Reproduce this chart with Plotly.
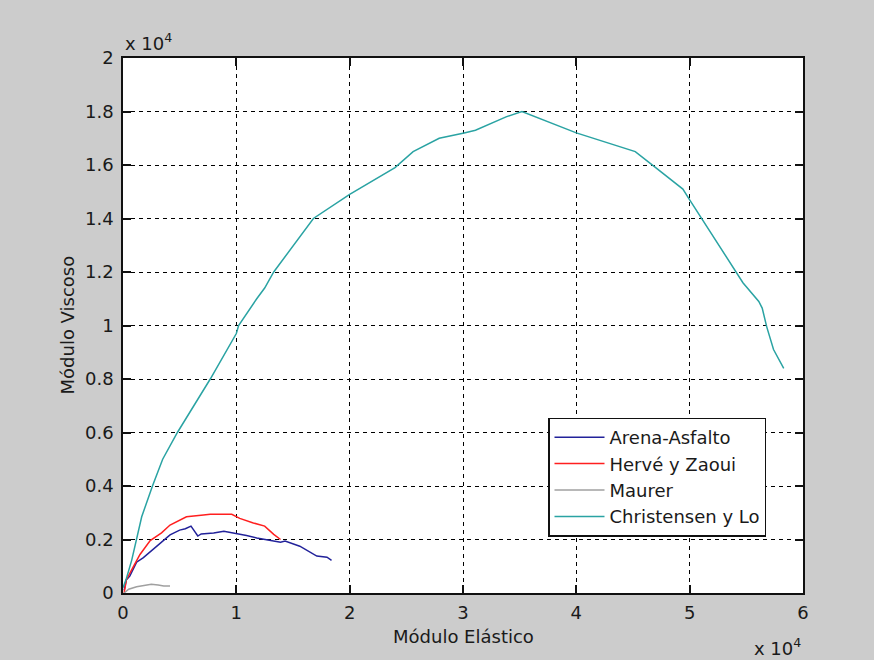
import plotly.graph_objects as go

arena_x = [100, 300, 600, 1200, 1800, 2700, 4150, 5000, 5500, 6000, 6600, 6900, 8000, 8900, 9700,
           10900, 11800, 13000, 13900, 14300, 15600, 17100, 18000, 18400]
arena_y = [100, 500, 630, 1150, 1320, 1650, 2170, 2350, 2400, 2500, 2130, 2210, 2240, 2310, 2250,
           2150, 2060, 1970, 1900, 1940, 1750, 1380, 1340, 1220]

herve_x = [100, 300, 1000, 1500, 2400, 3400, 4150, 5600, 7100, 7700, 9600, 10300, 11500, 12500, 13300, 13900]
herve_y = [0, 500, 1050, 1440, 1960, 2250, 2540, 2850, 2920, 2940, 2940, 2790, 2620, 2500, 2190, 2000]

maurer_x = [100, 500, 1200, 2500, 3100, 3600, 4150]
maurer_y = [0, 140, 230, 330, 300, 260, 260]

chris_x = [0, 260, 770, 1650, 2600, 3500, 4800, 6550, 7700, 10000, 10200, 11800, 12500, 13300, 16800,
           20000, 24000, 25600, 27900, 30100, 31100, 33800, 35200, 40000, 45200, 47000, 49400,
           50000, 53900, 54700, 56100, 56400, 56800, 57400, 58300]
chris_y = [200, 490, 1230, 2850, 4000, 5000, 6000, 7200, 8000, 9700, 10000, 11000, 11400, 12000, 14000,
           14900, 15900, 16500, 17000, 17200, 17300, 17800, 18000, 17200, 16500, 15900, 15100,
           14700, 12100, 11600, 10900, 10650, 9950, 9100, 8400]

series_names = ["Arena-Asfalto", "Hervé y Zaoui", "Maurer", "Christensen y Lo"]
series_colors = ["#22229a", "#ff1f1f", "#a0a0a0", "#2aa3a3"]

x_tickvals = [0, 10000, 20000, 30000, 40000, 50000, 60000]
x_ticktext = ["0", "1", "2", "3", "4", "5", "6"]
y_tickvals = [0, 2000, 4000, 6000, 8000, 10000, 12000, 14000, 16000, 18000, 20000]
y_ticktext = ["0", "0.2", "0.4", "0.6", "0.8", "1", "1.2", "1.4", "1.6", "1.8", "2"]

FONT = "DejaVu Sans, Liberation Sans, Arial, sans-serif"
FS = 18
TXT = "#1a1a1a"

fig = go.Figure()
for xs, ys, name, col in zip([arena_x, herve_x, maurer_x, chris_x],
                             [arena_y, herve_y, maurer_y, chris_y],
                             series_names, series_colors):
    fig.add_trace(go.Scatter(x=xs, y=ys, mode="lines", name=name,
                             line=dict(color=col, width=1.5)))

axis_common = dict(
    showline=True, linecolor="#111", linewidth=1.5, mirror="ticks",
    ticks="inside", ticklen=8, tickwidth=1.5, tickcolor="#111",
    showgrid=True, gridcolor="#000", gridwidth=1, griddash="4px,4px",
    zeroline=False, tickfont=dict(family=FONT, size=FS, color=TXT),
)

fig.update_xaxes(range=[0, 60000], tickmode="array", tickvals=x_tickvals, ticktext=x_ticktext,
                 ticklabelstandoff=3, **axis_common)
fig.update_yaxes(range=[0, 20000], tickmode="array", tickvals=y_tickvals, ticktext=y_ticktext,
                 ticklabelstandoff=4, **axis_common)

fig.update_layout(
    width=874, height=660, autosize=False,
    margin=dict(l=123, r=71, t=58, b=67, pad=0),
    paper_bgcolor="#cccccc", plot_bgcolor="#ffffff",
    font=dict(family=FONT, size=FS, color=TXT),
    showlegend=True,
    legend=dict(x=0.625, y=0.328, xanchor="left", yanchor="top",
                bgcolor="#ffffff", bordercolor="#111", borderwidth=1.5,
                font=dict(family=FONT, size=FS, color=TXT),
                tracegroupgap=0, itemwidth=50),
    annotations=[
        dict(text="x 10<sup>4</sup>", xref="paper", yref="paper", x=0.0, y=1.0,
             xanchor="left", yanchor="bottom", yshift=2, showarrow=False,
             font=dict(family=FONT, size=FS, color=TXT)),
        dict(text="x 10<sup>4</sup>", xref="paper", yref="paper", x=1.0, y=0.0,
             xanchor="right", yanchor="top", yshift=-40, showarrow=False,
             font=dict(family=FONT, size=FS, color=TXT)),
        dict(text="Módulo Elástico", xref="paper", yref="paper", x=0.5, y=0.0,
             xanchor="center", yanchor="middle", yshift=-43, showarrow=False,
             font=dict(family=FONT, size=FS, color=TXT)),
        dict(text="Módulo Viscoso", xref="paper", yref="paper", x=0.0, y=0.5,
             xanchor="center", yanchor="middle", xshift=-56, textangle=-90, showarrow=False,
             font=dict(family=FONT, size=FS, color=TXT)),
    ],
)

fig.write_html("out.html")
